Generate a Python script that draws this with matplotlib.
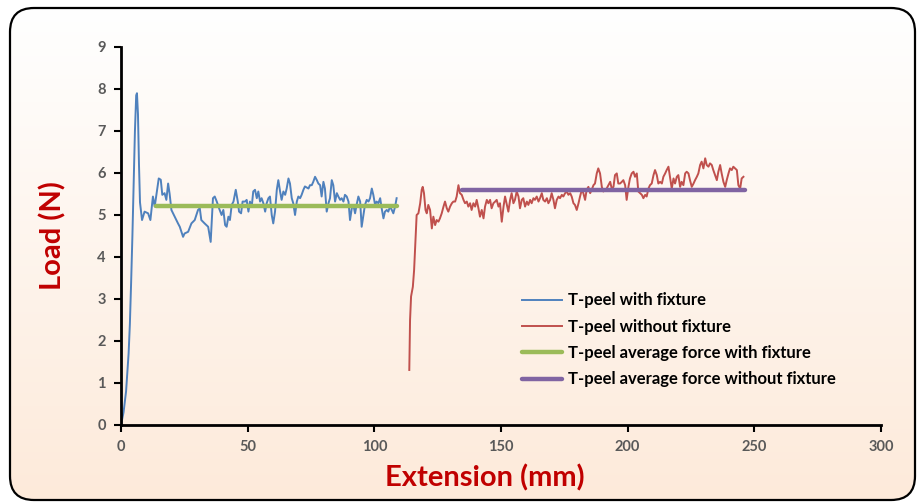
import matplotlib
matplotlib.use("Agg")
import matplotlib.pyplot as plt
import numpy as np
from matplotlib.patches import FancyBboxPatch

# ---------------- data ----------------
blue_x = [0, 1, 2, 3, 3.5, 4, 4.5, 5, 5.5, 6.0, 6.3, 6.7, 7.1, 7.5, 8.3, 9.3, 10.7, 11.6, 12.6,
          13.3, 14.9, 15.7, 16.3, 17.2, 17.9, 18.6, 19.2, 19.9, 21.2, 22.5, 23.2, 24.5, 25.1,
          26.5, 27.8, 29.1, 30.4, 31.1, 31.7, 33.0, 34.4, 35.4, 36.3, 37.0,
          37.8, 38.7, 39.7, 40.4, 41.1, 41.7, 42.4, 43.0, 43.7, 44.4, 45.3, 46.1, 46.6, 47.4,
          48.0, 49.0, 49.6, 50.3, 50.9, 51.6, 52.2, 52.9, 53.6, 54.2, 54.9, 55.5, 56.2, 56.9,
          57.5, 58.2, 58.8, 59.5, 60.1, 60.8, 61.5, 62.1, 62.8, 63.4, 64.1, 64.8, 65.4, 66.1,
          66.7, 67.4, 68.0, 68.7, 69.4, 70.0, 70.7, 71.3, 72.0, 72.6, 74.0,
          74.6, 75.3, 75.9, 76.6, 77.3, 77.9, 78.6, 79.2, 79.9, 80.5, 81.2, 81.9, 82.5, 83.2,
          83.8, 84.5, 85.2, 85.8, 86.5, 87.1, 87.8, 88.4, 89.1, 89.8, 90.4, 91.1, 91.7, 92.4,
          93.0, 93.7, 94.4, 95.0, 95.7, 96.3, 97.0, 97.7, 98.3, 99.0, 99.6, 100.3, 100.9,
          101.6, 102.3, 102.9, 103.6, 104.2, 104.9, 105.5, 106.2, 106.9, 107.5, 108.2, 108.8]
blue_y = [0, 0.3, 0.8, 1.7, 2.4, 3.4, 4.5, 5.7, 7.0, 7.85, 7.9, 7.4, 6.2, 5.3, 4.88, 5.08, 5.04,
          4.88, 5.44, 5.2, 5.87, 5.84, 5.48, 5.52, 5.36, 5.75, 5.5, 5.12, 4.96, 4.80, 4.72, 4.48,
          4.56, 4.6, 4.8, 4.88, 5.12, 5.16, 4.88, 4.80, 4.72, 4.36, 5.40, 5.44,
          5.32, 5.16, 5.0, 5.12, 4.76, 4.72, 4.96, 4.88, 5.24, 5.32, 5.60, 5.32, 5.08, 5.04,
          5.32, 5.32, 5.36, 5.08, 5.32, 5.2, 5.56, 5.60, 5.40, 5.56, 5.32, 5.40, 5.28, 5.08,
          5.28, 5.40, 5.44, 5.0, 4.80, 5.08, 5.60, 5.83, 5.56, 5.36, 5.56, 5.48, 5.63, 5.87,
          5.75, 5.40, 5.28, 5.0, 5.32, 5.44, 5.40, 5.48, 5.60, 5.68, 5.63,
          5.71, 5.71, 5.79, 5.91, 5.83, 5.75, 5.71, 5.44, 5.79, 5.63, 5.08, 5.28, 5.40, 5.83,
          5.71, 5.32, 5.52, 5.44, 5.36, 5.40, 5.32, 5.48, 5.44, 5.32, 4.88, 5.16, 5.24, 5.04,
          5.24, 5.44, 5.32, 4.72, 5.0, 5.24, 5.36, 5.32, 5.40, 5.63, 5.48, 5.24, 5.32,
          5.28, 5.40, 5.16, 4.92, 5.08, 5.12, 5.08, 5.20, 5.12, 5.04, 5.20, 5.40]

red_x = [113.8, 114.1, 114.5, 115.2, 115.7, 116.2, 116.7, 117.4, 118.1, 118.7, 119.1, 119.6,
         120.2, 120.7, 121.3, 122.0, 122.7, 123.3, 124.0, 124.6, 125.3, 125.9, 126.6, 127.3,
         127.9, 128.6, 129.2, 129.9, 130.6, 131.2, 131.9, 132.5, 133.2, 133.8, 134.5, 135.2,
         135.8, 136.5, 137.1, 137.8, 138.4, 139.1, 139.8, 140.4, 141.1, 141.7, 142.4, 143.1,
         143.7, 144.4, 145.0, 145.7, 146.3, 147.0, 147.7, 148.3, 149.0, 149.6, 150.3, 151.0,
         151.6, 152.3, 152.9, 153.6, 154.2, 154.9, 155.5, 156.2, 156.9, 157.5, 158.2, 158.8,
         159.5, 160.2, 160.8, 161.5, 162.1, 162.8, 163.4, 164.1, 164.8, 165.4, 166.1, 166.7,
         167.4, 168.1, 168.7, 169.4, 170.0, 170.7, 171.3, 172.0, 172.7, 173.3, 174.0, 174.6,
         175.3, 176.0, 176.6, 177.3, 177.9, 178.6, 179.2, 179.9, 180.6, 181.2, 181.9, 182.5,
         183.2, 183.8, 184.5, 185.2, 185.8, 186.5, 187.1, 187.8, 188.4, 189.1, 189.8, 190.4,
         191.1, 191.7, 192.4, 193.1, 193.7, 194.4, 195.0, 195.7, 196.3,
         197.0, 197.7, 198.3, 199.0, 199.6, 200.3, 200.9, 201.6, 202.3, 202.9, 203.6, 204.2,
         204.9, 205.6, 206.2, 206.9, 207.5, 208.2, 208.8, 209.5, 210.2, 210.8, 211.5, 212.1,
         212.8, 213.5, 214.1, 214.8, 215.4, 216.1, 216.7, 217.4, 218.1, 218.7, 219.4, 220.0,
         220.7, 221.3, 222.0, 222.7, 223.3, 224.0, 224.6, 225.3, 226.0, 226.6, 227.3, 227.9,
         228.6, 229.2, 229.9, 230.6, 231.2, 231.9, 232.5, 233.2, 233.8, 234.5, 235.2, 235.8,
         236.5, 237.1, 237.8, 238.5, 239.1, 239.8, 240.4, 241.1, 241.7, 242.4, 243.1, 243.7,
         244.4, 245.0, 245.7]
red_y = [1.31, 2.5, 3.06, 3.29, 3.69, 4.33, 5.0, 5.04, 5.28, 5.60, 5.67, 5.52,
         5.12, 5.04, 5.24, 5.12, 4.68, 4.96, 4.76, 4.88, 4.84, 4.92, 5.04, 5.20,
         5.32, 5.16, 5.08, 5.20, 5.28, 5.32, 5.32, 5.44, 5.71, 5.52, 5.48, 5.36,
         5.28, 5.32, 5.20, 5.28, 5.12, 5.28, 5.20, 5.36, 5.16, 4.96, 5.12, 4.92,
         5.20, 5.36, 5.28, 5.36, 5.16, 5.28, 5.32, 5.36, 5.20, 5.28, 4.84, 5.20,
         5.44, 5.24, 5.08, 5.36, 5.52, 5.28, 5.36, 5.56, 5.44, 5.16, 5.36, 5.40,
         5.20, 5.32, 5.24, 5.36, 5.28, 5.40, 5.36, 5.44, 5.32, 5.40, 5.52, 5.36,
         5.32, 5.40, 5.28, 5.36, 5.52, 5.36, 5.16, 5.36, 5.44, 5.40, 5.48, 5.44,
         5.52, 5.56, 5.48, 5.52, 5.44, 5.28, 5.24, 5.12, 5.28, 5.44, 5.60, 5.52,
         5.36, 5.60, 5.67, 5.52, 5.60, 5.71, 5.75, 5.99, 6.11, 5.99, 5.67, 5.56,
         5.60, 5.63, 5.71, 5.79, 5.63, 5.67, 5.95, 5.99, 5.75,
         5.75, 5.79, 5.83, 5.71, 5.36, 5.67, 5.87, 5.99, 6.03, 5.91, 5.99, 5.56,
         5.52, 5.48, 5.40, 5.48, 5.44, 5.63, 5.71, 5.75, 5.95, 6.07, 5.95, 5.75,
         5.79, 5.75, 5.91, 5.99, 6.07, 6.15, 5.91, 5.63, 5.87, 5.75, 5.91, 5.95,
         5.67, 5.79, 5.71, 5.99, 6.03, 5.99, 5.83, 5.67, 5.75, 5.83, 5.91, 5.99,
         6.19, 6.27, 6.11, 6.35, 6.19, 6.15, 6.23, 6.19, 6.07, 5.95, 5.83, 6.03,
         6.19, 5.99, 5.79, 5.67, 5.83, 5.99, 6.11, 6.07, 6.15, 6.11, 6.07, 5.71,
         5.63, 5.87, 5.91]

avg_with_x = [14.0, 109.0]
avg_with_y = [5.22, 5.22]
avg_without_x = [134.5, 246.3]
avg_without_y = [5.6, 5.6]

x_ticks = [0, 50, 100, 150, 200, 250, 300]
y_ticks = [0, 1, 2, 3, 4, 5, 6, 7, 8, 9]
labels = ["T-peel with fixture", "T-peel without fixture",
          "T-peel average force with fixture", "T-peel average force without fixture"]

# ---------------- figure ----------------
plt.rcParams['font.family'] = ['Lato', 'DejaVu Sans']
W, H = 919, 504
fig = plt.figure(figsize=(W / 100, H / 100), dpi=100)

bg = fig.add_axes([0, 0, 1, 1], zorder=0)
bg.set_xlim(0, W)
bg.set_ylim(0, H)
bg.axis('off')
box = FancyBboxPatch((10, 4), 905, 492, boxstyle="round,pad=0,rounding_size=24",
                     facecolor='none', edgecolor='black', linewidth=1.6, zorder=3)
bg.add_patch(box)
top = np.array([255, 255, 255]) / 255
bot = np.array([253, 234, 218]) / 255
t = np.linspace(0, 1, 256)[:, None]
grad = (top[None, :] * (1 - t) + bot[None, :] * t)[:, None, :]
im = bg.imshow(grad, extent=(10, 915, 4, 496), aspect='auto', origin='upper', zorder=1)
im.set_clip_path(box)

ax = fig.add_axes([121 / W, 1 - 425 / H, 760 / W, 378 / H], zorder=1)
ax.set_facecolor('none')
ax.plot(blue_x, blue_y, color='#4F81BD', lw=1.4, label=labels[0])
ax.plot(red_x, red_y, color='#C0504D', lw=1.4, label=labels[1])
ax.plot(avg_with_x, avg_with_y, color='#9BBB59', lw=3.2, solid_capstyle='round', label=labels[2])
ax.plot(avg_without_x, avg_without_y, color='#8064A2', lw=3.2, solid_capstyle='round', label=labels[3])

ax.set_xlim(0, 300)
ax.set_ylim(0, 9)
ax.set_xticks(x_ticks)
ax.set_yticks(y_ticks)
for s in ['top', 'right']:
    ax.spines[s].set_visible(False)
for s in ['left', 'bottom']:
    ax.spines[s].set_linewidth(2)
    ax.spines[s].set_color('black')
ax.tick_params(direction='out', length=5, width=1.5, colors='black',
               labelcolor='#595959', labelsize=10.5, pad=6)
for lab in ax.get_xticklabels() + ax.get_yticklabels():
    lab.set_fontweight('bold')

ax.set_xlabel("Extension (mm)", fontsize=21, fontweight='bold', color='#C00000')
ax.xaxis.set_label_coords((485 - 121) / 760, -0.105)
ax.xaxis.label.set_verticalalignment('top')
ax.set_ylabel("Load (N)", fontsize=21, fontweight='bold', color='#C00000', labelpad=22)

leg = ax.legend(loc='upper left', bbox_to_anchor=(514 / W, 1 - 284 / H),
                bbox_transform=fig.transFigure, frameon=False, handlelength=2.4,
                handletextpad=0.35, labelspacing=0.62, borderpad=0,
                prop={'weight': 'bold', 'size': 12})

fig.savefig('out.png', dpi=100)
